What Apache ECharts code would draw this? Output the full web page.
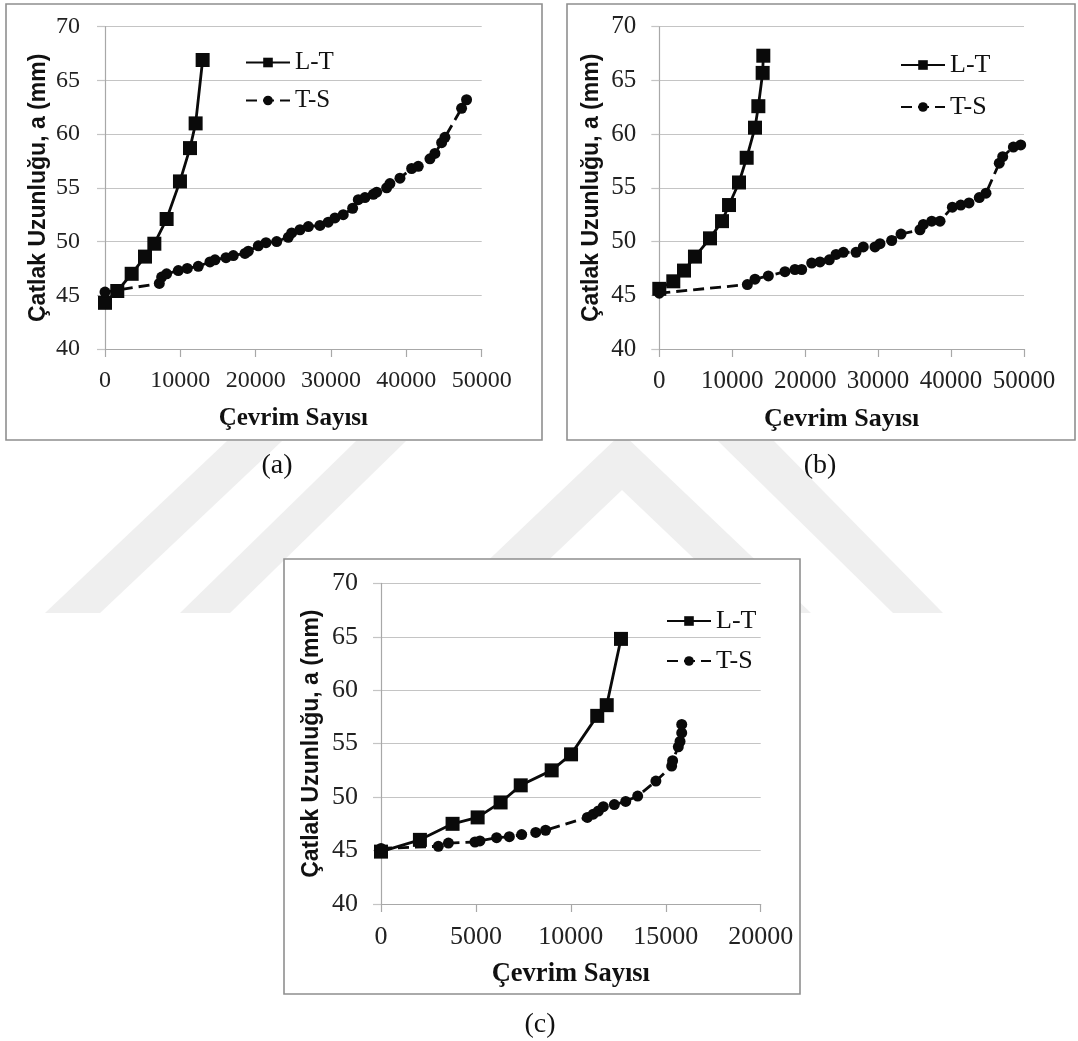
<!DOCTYPE html>
<html>
<head>
<meta charset="utf-8">
<script src="https://cdn.jsdelivr.net/npm/echarts@6/dist/echarts.min.js"></script>
<style>
html,body{margin:0;padding:0;background:#fff;}
#main{width:1078px;height:1041px;}
</style>
</head>
<body>
<div id="main"></div>
<script>
// ---------- DATA ----------
const seriesNames = ['L-T', 'T-S'];
const panelLabels = ['(a)', '(b)', '(c)'];
const xAxisTitle = 'Çevrim Sayısı';
const yAxisTitle = 'Çatlak Uzunluğu, a (mm)';

// (a)
const aLT_x = [0, 1630, 3540, 5310, 6550, 8180, 9950, 11280, 12030, 12960];
const aLT_y = [44.3, 45.4, 47.0, 48.6, 49.8, 52.1, 55.6, 58.7, 61.0, 66.9];
const aTS_x = [0, 7210, 7520, 8180, 9730, 10920, 12380, 13930, 14600, 16060, 17030, 18580, 19020, 20350, 21370, 22790, 24330, 24780, 25880, 26990, 28530, 29630, 30520, 31620, 32870, 33620, 34500, 35610, 36060, 37380, 37820, 39150, 40700, 41580, 43130, 43790, 44680, 45120, 47330, 47990];
const aTS_y = [45.3, 46.1, 46.7, 47.0, 47.3, 47.5, 47.7, 48.1, 48.3, 48.5, 48.7, 48.9, 49.1, 49.6, 49.9, 50.0, 50.4, 50.8, 51.1, 51.4, 51.5, 51.8, 52.2, 52.5, 53.1, 53.9, 54.1, 54.4, 54.6, 55.0, 55.4, 55.9, 56.8, 57.0, 57.7, 58.2, 59.2, 59.7, 62.4, 63.2];

// (b)
const bLT_x = [0, 1920, 3390, 4890, 6950, 8600, 9560, 10930, 11980, 13120, 13580, 14170, 14260];
const bLT_y = [45.6, 46.3, 47.3, 48.6, 50.3, 51.9, 53.4, 55.5, 57.8, 60.6, 62.6, 65.7, 67.3];
const bTS_x = [0, 12070, 13120, 14950, 17230, 18600, 19520, 20890, 22030, 23310, 24230, 25230, 26970, 27970, 29570, 30260, 31860, 33140, 35740, 36200, 37350, 38490, 40180, 41330, 42460, 43870, 44790, 46610, 47080, 48540, 49550];
const bTS_y = [45.2, 46.0, 46.5, 46.8, 47.2, 47.4, 47.4, 48.0, 48.1, 48.3, 48.8, 49.0, 49.0, 49.5, 49.5, 49.8, 50.1, 50.7, 51.1, 51.6, 51.9, 51.9, 53.2, 53.4, 53.6, 54.1, 54.5, 57.3, 57.9, 58.8, 59.0];

// (c)
const cLT_x = [0, 2050, 3770, 5090, 6300, 7360, 8990, 10010, 11390, 11890, 12640];
const cLT_y = [44.9, 46.0, 47.5, 48.1, 49.5, 51.1, 52.5, 54.0, 57.6, 58.6, 64.8];
const cTS_x = [0, 3020, 3550, 4950, 5210, 6090, 6760, 7410, 8150, 8670, 10870, 11180, 11450, 11710, 12290, 12890, 13520, 14480, 15310, 15360, 15660, 15750, 15840, 15840];
const cTS_y = [45.2, 45.4, 45.7, 45.8, 45.9, 46.2, 46.3, 46.5, 46.7, 46.9, 48.1, 48.4, 48.7, 49.1, 49.3, 49.6, 50.1, 51.5, 52.9, 53.4, 54.7, 55.2, 56.0, 56.8];

// axis ranges
const xMaxes = [50000, 50000, 20000];
const xSteps = [10000, 10000, 5000];
const yMin = 40, yMax = 70, yStep = 5;

// ---------- BUILD ----------
const zip = (xs, ys) => xs.map((x, i) => [x, ys[i]]);
const SERIF = '"Liberation Serif", "Times New Roman", serif';
const SANS = '"Liberation Sans", Arial, sans-serif';

const panels = [
  { grid: {left: 105, top: 26.7, width: 376.7, height: 322.3},
    tick: 24, xname: 25, xgap: 57, ygap: 55, ymargin: 25, xmargin: 20,
    legend: {left: 245, top: 50, gap: 13, fs: 25},
    lt: zip(aLT_x, aLT_y), ts: zip(aTS_x, aTS_y) },
  { grid: {left: 659.3, top: 26.7, width: 364.7, height: 322.3},
    tick: 25, xname: 26, xgap: 57, ygap: 56, ymargin: 23, xmargin: 20,
    legend: {left: 900, top: 52, gap: 16, fs: 26},
    lt: zip(bLT_x, bLT_y), ts: zip(bTS_x, bTS_y) },
  { grid: {left: 381, top: 583.3, width: 379.7, height: 320.7},
    tick: 26, xname: 26.5, xgap: 57, ygap: 58, ymargin: 23, xmargin: 20,
    legend: {left: 666, top: 608, gap: 14, fs: 26},
    lt: zip(cLT_x, cLT_y), ts: zip(cTS_x, cTS_y) }
];

const AXIS_GRAY = '#a8a8a8';
const GRID_GRAY = '#c4c4c4';
const INK = '#0a0a0a';
const plain = v => String(v);

const grid = [], xAxis = [], yAxis = [], series = [], legend = [];
panels.forEach((p, i) => {
  grid.push(Object.assign({}, p.grid));
  xAxis.push({
    gridIndex: i, type: 'value', min: 0, max: xMaxes[i], interval: xSteps[i],
    name: xAxisTitle, nameLocation: 'middle', nameGap: p.xgap,
    nameTextStyle: {fontFamily: SERIF, fontWeight: 'bold', fontSize: p.xname, color: '#111'},
    axisLine: {show: true, lineStyle: {color: AXIS_GRAY, width: 1.2}},
    axisTick: {show: true, length: 8, inside: false, lineStyle: {color: AXIS_GRAY, width: 1.2}},
    axisLabel: {fontFamily: SERIF, fontSize: p.tick, color: '#222', margin: p.xmargin, formatter: plain},
    splitLine: {show: false}
  });
  yAxis.push({
    gridIndex: i, type: 'value', min: yMin, max: yMax, interval: yStep,
    name: yAxisTitle, nameLocation: 'middle', nameGap: p.ygap, nameRotate: 90,
    nameTextStyle: {fontFamily: SANS, fontWeight: 'bold', fontSize: 23, color: '#111'},
    axisLine: {show: true, lineStyle: {color: AXIS_GRAY, width: 1.2}},
    axisTick: {show: true, length: 8, inside: false, lineStyle: {color: GRID_GRAY, width: 1.2}},
    axisLabel: {fontFamily: SERIF, fontSize: p.tick, color: '#222', margin: p.ymargin, formatter: plain},
    splitLine: {show: true, lineStyle: {color: GRID_GRAY, width: 1.2}}
  });
  series.push({
    name: seriesNames[0], type: 'line', xAxisIndex: i, yAxisIndex: i,
    data: p.lt, symbol: 'rect', symbolSize: 14,
    itemStyle: {color: INK},
    lineStyle: {color: INK, width: 2.8, type: 'solid'},
    animation: false, z: 3
  });
  series.push({
    name: seriesNames[1], type: 'line', xAxisIndex: i, yAxisIndex: i,
    data: p.ts, symbol: 'circle', symbolSize: 11,
    itemStyle: {color: INK},
    lineStyle: {color: INK, width: 2.8, type: [11, 6]},
    animation: false, z: 3
  });
  legend.push({
    show: true, orient: 'vertical', left: p.legend.left, top: p.legend.top,
    itemWidth: 44, itemHeight: 12, itemGap: p.legend.gap, padding: 0,
    data: seriesNames, selectedMode: false,
    textStyle: {fontFamily: SERIF, fontSize: p.legend.fs, color: '#111'}
  });
});

// frames, labels and faint background watermark
const frames = [
  {x: 6, y: 4, w: 536, h: 436},
  {x: 567, y: 4, w: 508, h: 436},
  {x: 284, y: 559, w: 516, h: 435}
];
const labelPos = [[277, 466], [820, 466], [540, 1025]];
const WM = '#efefef';
const graphicEls = [
  {type: 'polygon', z: -2, silent: true, shape: {points: [[45,613],[100,613],[282,441],[227,441]]}, style: {fill: WM}},
  {type: 'polygon', z: -2, silent: true, shape: {points: [[180,613],[230,613],[406,441],[356,441]]}, style: {fill: WM}},
  {type: 'polygon', z: -2, silent: true, shape: {points: [[622,433],[811,613],[751,613],[622,490],[493,613],[433,613]]}, style: {fill: WM}},
  {type: 'polygon', z: -2, silent: true, shape: {points: [[718,441],[774,441],[943,613],[893,613]]}, style: {fill: WM}}
];
frames.forEach(f => graphicEls.push({
  type: 'rect', z: -1, silent: true,
  shape: {x: f.x, y: f.y, width: f.w, height: f.h},
  style: {fill: '#fff', stroke: '#8f8f8f', lineWidth: 1.6}
}));
panelLabels.forEach((t, i) => graphicEls.push({
  type: 'text', z: 5, silent: true, x: labelPos[i][0], y: labelPos[i][1],
  style: {text: t, fontFamily: SERIF, fontSize: 28, fill: '#111', align: 'center', verticalAlign: 'middle'}
}));

const chart = echarts.init(document.getElementById('main'), null, {renderer: 'canvas'});
chart.setOption({
  backgroundColor: '#ffffff',
  animation: false,
  grid, xAxis, yAxis, series, legend,
  graphic: {elements: graphicEls}
});
</script>
</body>
</html>
